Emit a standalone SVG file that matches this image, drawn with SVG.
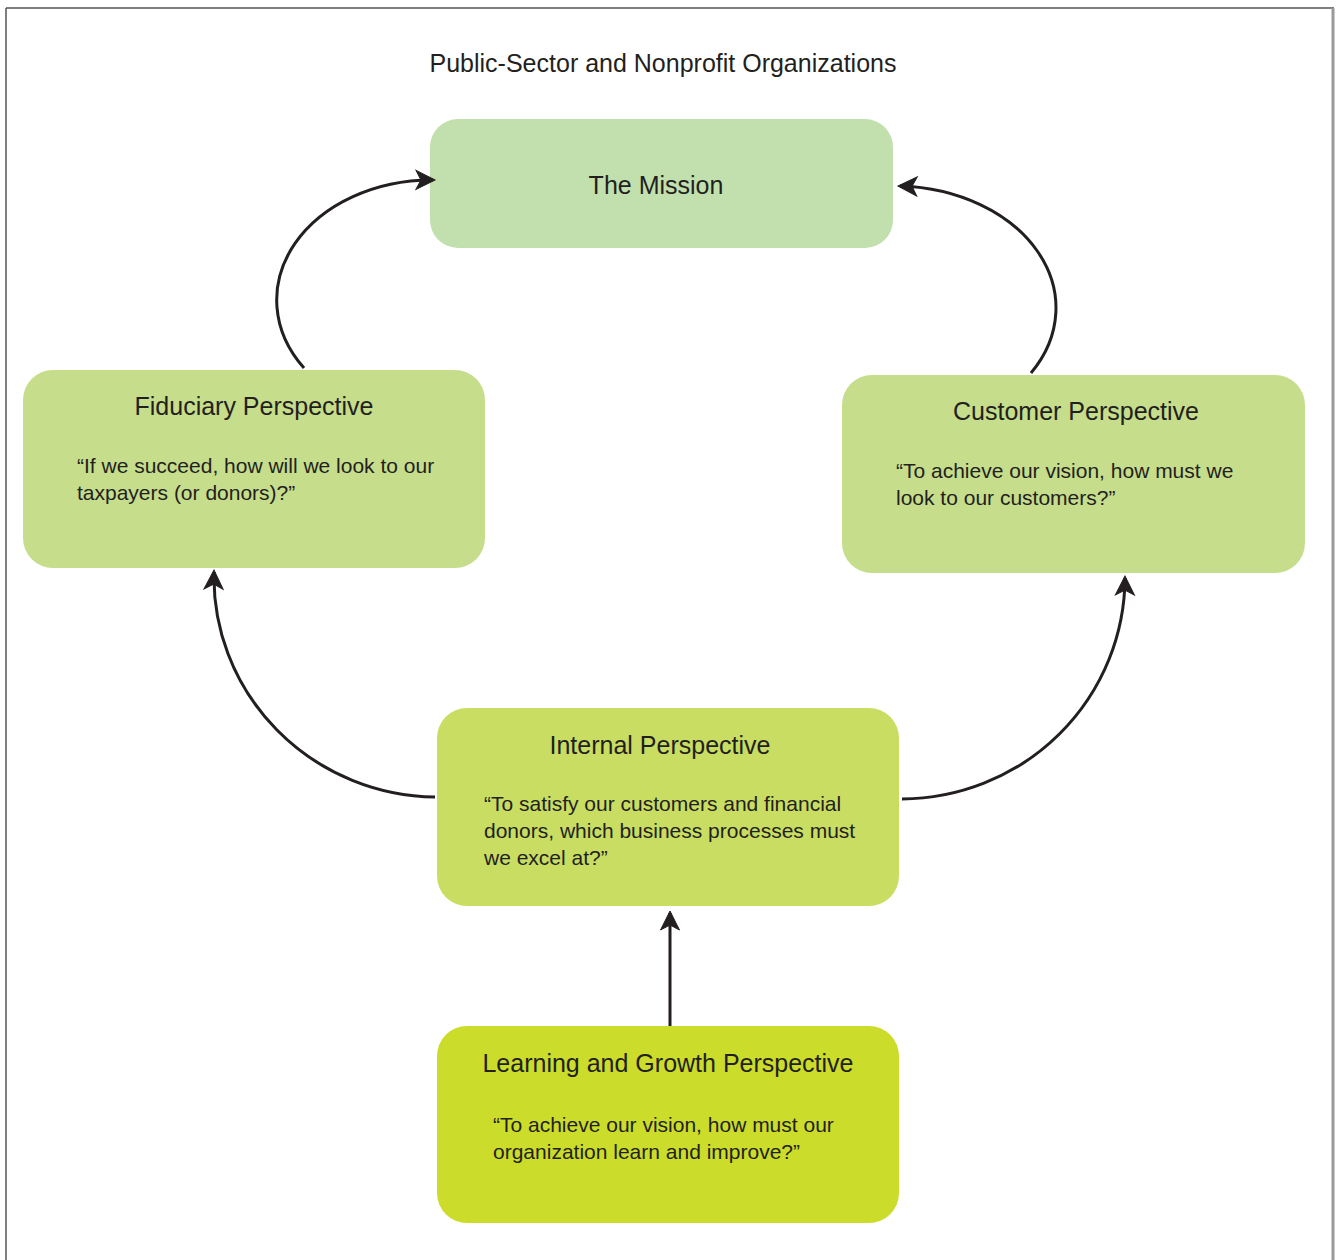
<svg xmlns="http://www.w3.org/2000/svg" width="1336" height="1260" viewBox="0 0 1336 1260">
  <style>
    .box { stroke: none; }
    .head { font-family: "Liberation Sans", Arial, sans-serif; font-size: 25px; fill: #231f20; }
    .body { font-family: "Liberation Sans", Arial, sans-serif; font-size: 21px; fill: #231f20; }
    .title { font-family: "Liberation Sans", Arial, sans-serif; font-size: 25px; fill: #231f20; }
    .link { fill: none; stroke: #231f20; stroke-width: 3; marker-end: url(#arrow); }
  </style>
  <defs>
    <marker id="arrow" viewBox="-20 -11 24 22" markerWidth="24" markerHeight="22" refX="0" refY="0" orient="auto" markerUnits="userSpaceOnUse">
      <path d="M2,0 L-17,-9.5 L-12,0 L-17,9.5 Z" fill="#231f20" stroke="#231f20" stroke-width="1" stroke-linejoin="miter"/>
    </marker>
  </defs>

  <rect x="0" y="0" width="1336" height="1260" fill="#ffffff"/>

  <!-- page frame -->
  <g id="frame" fill="none">
    <line x1="6" y1="8" x2="1334" y2="8" stroke="#555555" stroke-width="1.5"/>
    <line x1="6" y1="8" x2="6" y2="1260" stroke="#555555" stroke-width="1.5"/>
    <line x1="1333" y1="8" x2="1333" y2="1260" stroke="#9a9a9a" stroke-width="3"/>
  </g>

  <text class="title" x="663" y="72" text-anchor="middle">Public-Sector and Nonprofit Organizations</text>

  <g id="mission">
    <rect class="box" x="430" y="119" width="463" height="129" rx="28" fill="#c2e0ae"/>
    <text class="head" x="656" y="194" text-anchor="middle">The Mission</text>
  </g>

  <g id="fiduciary">
    <rect class="box" x="23" y="370" width="462" height="198" rx="30" fill="#c6dd8b"/>
    <text class="head" x="254" y="415" text-anchor="middle">Fiduciary Perspective</text>
    <text class="body" x="77" y="473">“If we succeed, how will we look to our</text>
    <text class="body" x="77" y="500">taxpayers (or donors)?”</text>
  </g>

  <g id="customer">
    <rect class="box" x="842" y="375" width="463" height="198" rx="30" fill="#c6dd8b"/>
    <text class="head" x="1076" y="420" text-anchor="middle">Customer Perspective</text>
    <text class="body" x="896" y="478">“To achieve our vision, how must we</text>
    <text class="body" x="896" y="505">look to our customers?”</text>
  </g>

  <g id="internal">
    <rect class="box" x="437" y="708" width="462" height="198" rx="30" fill="#c9dd62"/>
    <text class="head" x="660" y="754" text-anchor="middle">Internal Perspective</text>
    <text class="body" x="484" y="811">“To satisfy our customers and financial</text>
    <text class="body" x="484" y="838">donors, which business processes must</text>
    <text class="body" x="484" y="865">we excel at?”</text>
  </g>

  <g id="learning">
    <rect class="box" x="437" y="1026" width="462" height="197" rx="30" fill="#cbdc2a"/>
    <text class="head" x="668" y="1072" text-anchor="middle">Learning and Growth Perspective</text>
    <text class="body" x="493" y="1132">“To achieve our vision, how must our</text>
    <text class="body" x="493" y="1159">organization learn and improve?”</text>
  </g>

  <g id="connectors">
    <path class="link" d="M304,368 A155,120 0 0 1 433,180"/>
    <path class="link" d="M1031,373 A162,122 0 0 0 900,186"/>
    <path class="link" d="M435,797 A224,220 0 0 1 214,572"/>
    <path class="link" d="M902,799 A224,222 0 0 0 1125,578"/>
    <path class="link" d="M670,1026 L670,913"/>
  </g>
</svg>
